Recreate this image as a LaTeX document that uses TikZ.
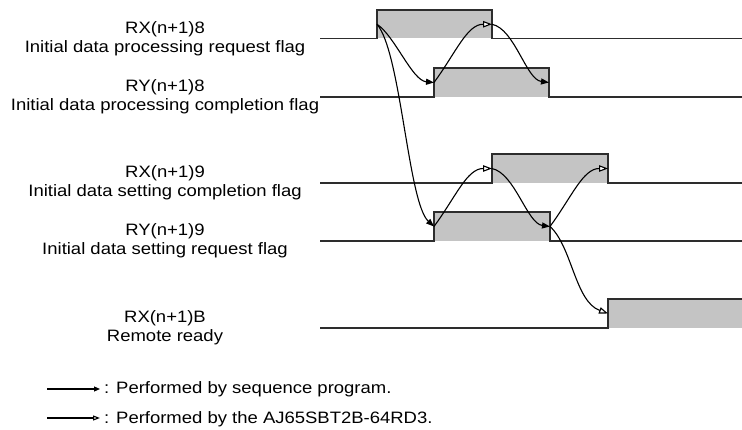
\documentclass[tikz,border=0pt]{standalone}
\usepackage{fontspec}
\setmainfont{Liberation Sans}
\usetikzlibrary{arrows.meta}
\definecolor{sigfill}{RGB}{196,196,196}
\definecolor{sigline}{RGB}{45,45,45}
\newcommand{\stretchtxt}[1]{\scalebox{1.12}[1]{#1}}
\tikzset{
  sigw/.style={line width=1.3pt, draw=sigline},
  sigf/.style={fill=sigfill, draw=none},
  lab/.style={font=\fontsize{16.5}{19}\selectfont, anchor=base, inner sep=0pt},
  leg/.style={font=\fontsize{16.5}{19}\selectfont, anchor=base west, inner sep=0pt},
  cur/.style={line width=1.1pt, draw=black},
  blk/.style={cur, -{Triangle[length=8pt,width=6pt]}},
  wht/.style={cur, -{Triangle[length=9pt,width=6.5pt,fill=white]}},
  blks/.style={cur, -{Triangle[length=6pt,width=5pt]}},
  whts/.style={cur, -{Triangle[length=7pt,width=5pt,fill=white]}},
}
\begin{document}
\begin{tikzpicture}[x=1pt,y=-1pt]
\useasboundingbox (0,0) rectangle (742,430);

% ---------- signals ----------
% S1 RX(n+1)8
\fill[sigf] (377,10) rectangle (492,38.5);
\draw[sigw] (320,38.5) -- (377,38.5) -- (377,10) -- (492,10) -- (492,38.5) -- (742,38.5);
% S2 RY(n+1)8
\fill[sigf] (434,68) rectangle (549,97);
\draw[sigw] (320,97) -- (434,97) -- (434,68) -- (549,68) -- (549,97) -- (742,97);
% S3 RX(n+1)9
\fill[sigf] (492,154) rectangle (608,183);
\draw[sigw] (320,183) -- (492,183) -- (492,154) -- (608,154) -- (608,183) -- (742,183);
% S4 RY(n+1)9
\fill[sigf] (434,212) rectangle (550,241);
\draw[sigw] (320,241) -- (434,241) -- (434,212) -- (550,212) -- (550,241) -- (742,241);
% S5 RX(n+1)B
\fill[sigf] (608,299) rectangle (742,328);
\draw[sigw] (320,328) -- (608,328) -- (608,299) -- (742,299);

% ---------- labels ----------
\node[lab] (l1a) at (165,33.5) {\stretchtxt{RX(n+1)8}};
\node[lab] (l1b) at (165,52.5) {\stretchtxt{Initial data processing request flag}};
\node[lab] (l2a) at (165,92) {\stretchtxt{RY(n+1)8}};
\node[lab] (l2b) at (165,111) {\stretchtxt{Initial data processing completion flag}};
\node[lab] (l3a) at (165,178) {\stretchtxt{RX(n+1)9}};
\node[lab] (l3b) at (165,197) {\stretchtxt{Initial data setting completion flag}};
\node[lab] (l4a) at (165,236) {\stretchtxt{RY(n+1)9}};
\node[lab] (l4b) at (165,255) {\stretchtxt{Initial data setting request flag}};
\node[lab] (l5a) at (165,323) {\stretchtxt{RX(n+1)B}};
\node[lab] (l5b) at (165,342) {\stretchtxt{Remote ready}};

% ---------- edge points ----------
\coordinate (r1) at (377,24.25);
\coordinate (f1) at (492,24.25);
\coordinate (r2) at (434,82.5);
\coordinate (f2) at (549,82.5);
\coordinate (r3) at (492,168.5);
\coordinate (f3) at (608,168.5);
\coordinate (r4) at (434,226.5);
\coordinate (f4) at (550,226.5);
\coordinate (r5) at (608,313.5);

% ---------- causal arrows ----------
\draw[blk] (r1) .. controls +(18,12) and +(-22,-2) .. (r2);
\draw[blk] (r1) .. controls +(24,28) and +(-26,-24) .. (r4);
\draw[wht] (r2) .. controls +(22,-30) and +(-25,0) .. (f1);
\draw[blk] (f1) .. controls +(23,5) and +(-23,-3) .. (f2);
\draw[wht] (r4) .. controls +(22,-30) and +(-25,0) .. (r3);
\draw[blk] (r3) .. controls +(23,5) and +(-23,-3) .. (f4);
\draw[wht] (f4) .. controls +(22,-30) and +(-25,0) .. (f3);
\draw[wht] (f4) .. controls +(22,20) and +(-33,-12) .. (r5);

% ---------- legend ----------
\coordinate (k1a) at (47,389);
\coordinate (k1b) at (100,389);
\coordinate (k2a) at (47,418);
\coordinate (k2b) at (100,418);
\draw[blks] (k1a) -- (k1b);
\draw[whts] (k2a) -- (k2b);
\node[leg] (t1) at (104,394) {\stretchtxt{: Performed by sequence program.}};
\node[leg] (t2) at (104,423) {\stretchtxt{: Performed by the AJ65SBT2B-64RD3.}};
\end{tikzpicture}
\end{document}
